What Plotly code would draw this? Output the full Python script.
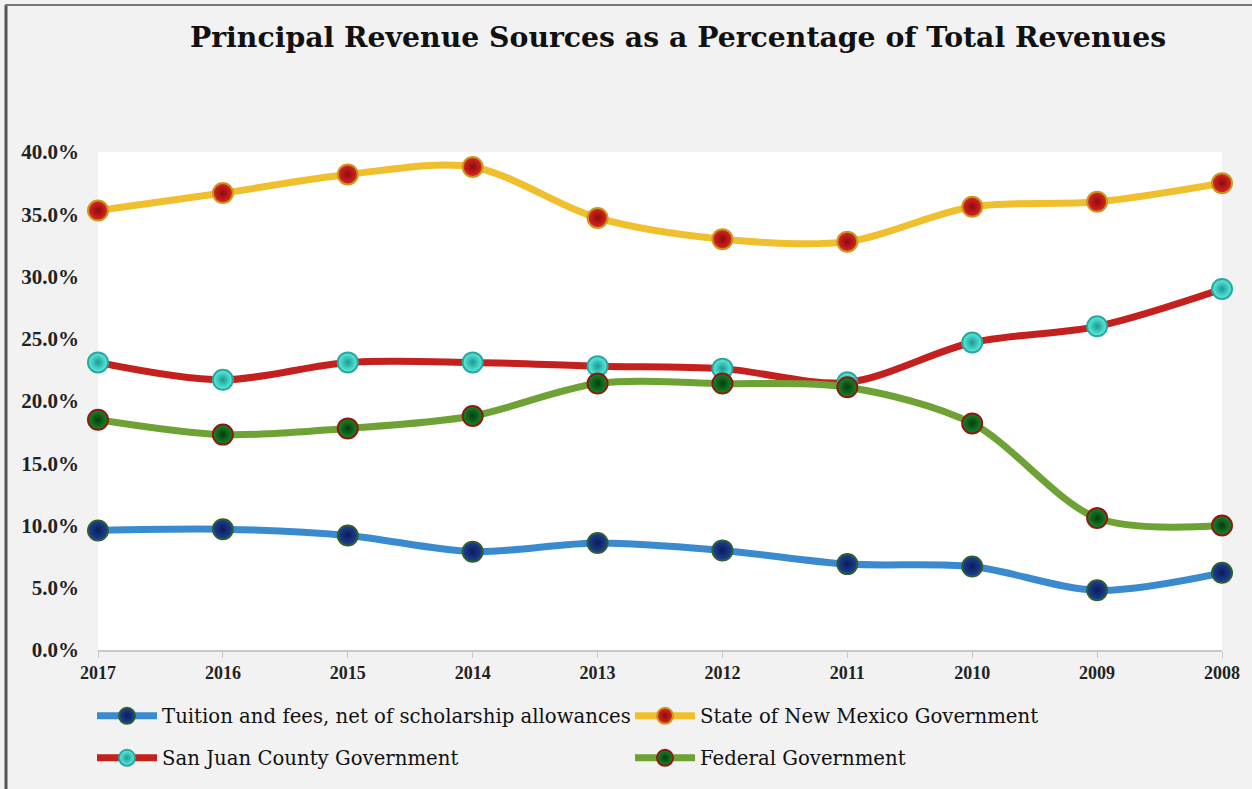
import plotly.graph_objects as go

years = ["2017", "2016", "2015", "2014", "2013", "2012", "2011", "2010", "2009", "2008"]
tuition = [9.6, 9.7, 9.2, 7.9, 8.6, 8.0, 6.9, 6.7, 4.8, 6.2]
state_nm = [35.3, 36.7, 38.2, 38.8, 34.7, 33.0, 32.8, 35.6, 36.0, 37.5]
san_juan = [23.1, 21.7, 23.1, 23.1, 22.8, 22.6, 21.5, 24.7, 26.0, 29.0]
federal = [18.5, 17.3, 17.8, 18.8, 21.4, 21.4, 21.1, 18.2, 10.6, 10.0]
y_ticks = [0, 5, 10, 15, 20, 25, 30, 35, 40]
y_tick_labels = [f"{v:.1f}%" for v in y_ticks]

series = [
    ("Tuition and fees, net of scholarship allowances", tuition, "#3a8ad0", "#1c3f9e", "#0c1d52", "#2f5f2a", "legend"),
    ("State of New Mexico Government", state_nm, "#f0bf2e", "#e02525", "#8a0c0c", "#c89a1a", "legend"),
    ("San Juan County Government", san_juan, "#c4201e", "#5ff0e0", "#1a9a92", "#2aa8a0", "legend2"),
    ("Federal Government", federal, "#6ea234", "#138a28", "#063a10", "#8a1a12", "legend2"),
]

FONT = "Liberation Serif, Times New Roman, serif"
WIDE_FONT = "DejaVu Serif, serif"

fig = go.Figure()
for name, vals, lc, mc, gc, bc, lg in series:
    fig.add_trace(go.Scatter(
        x=years, y=vals, name=name, mode="lines+markers",
        line=dict(color=lc, width=7, shape="spline", smoothing=0.9),
        marker=dict(size=20, color=mc, gradient=dict(type="radial", color=gc),
                    line=dict(color=bc, width=2)),
        cliponaxis=False, legend=lg,
    ))

W, H = 1252, 789
ml, mr, mt, mb = 98, 30, 152, 139
pw, ph = W - ml - mr, H - mt - mb

def px_x(x):
    return (x - ml) / pw

def px_y(y):
    return (H - mb - y) / ph

legend_common = dict(orientation="h", xanchor="left", yanchor="middle",
                     entrywidth=463, entrywidthmode="pixels", itemwidth=60,
                     bgcolor="rgba(0,0,0,0)",
                     font=dict(family=WIDE_FONT, size=19.7, color="#111111"))

fig.update_layout(
    width=W, height=H,
    margin=dict(l=ml, r=mr, t=mt, b=mb),
    paper_bgcolor="#f2f2f2", plot_bgcolor="#ffffff",
    font=dict(family=FONT, color="#1a1a1a"),
    title=dict(text="<b>Principal Revenue Sources as a Percentage of Total Revenues</b>",
               x=678 / W, xanchor="center", y=1 - 37 / H, yanchor="middle", yref="container",
               font=dict(family=WIDE_FONT, size=28.3, color="#111111")),
    xaxis=dict(type="category", range=[0, 9], showgrid=False, zeroline=False,
               showline=True, linecolor="#c8c8c8", linewidth=1.5,
               ticks="outside", tickcolor="#c8c8c8", ticklen=6,
               tickfont=dict(family=FONT, size=18, color="#222222"),
               tickprefix="<b>", ticksuffix="</b>"),
    yaxis=dict(range=[0, 40], showgrid=False, zeroline=False, showline=False,
               tickvals=y_ticks, ticktext=[f"<b>{t}</b>" for t in y_tick_labels],
               ticklabelstandoff=18,
               tickfont=dict(family=FONT, size=21, color="#222222")),
    legend=dict(x=px_x(92), y=px_y(716), **legend_common),
    legend2=dict(x=px_x(92), y=px_y(758), **legend_common),
    showlegend=True,
    shapes=[
        dict(type="line", xref="paper", yref="paper", x0=px_x(6), x1=px_x(6),
             y0=px_y(5), y1=px_y(H + 5), line=dict(color="#555555", width=3)),
        dict(type="line", xref="paper", yref="paper", x0=px_x(5), x1=px_x(W + 5),
             y0=px_y(5), y1=px_y(5), line=dict(color="#777777", width=2)),
    ],
)

fig.write_html("out.html")
